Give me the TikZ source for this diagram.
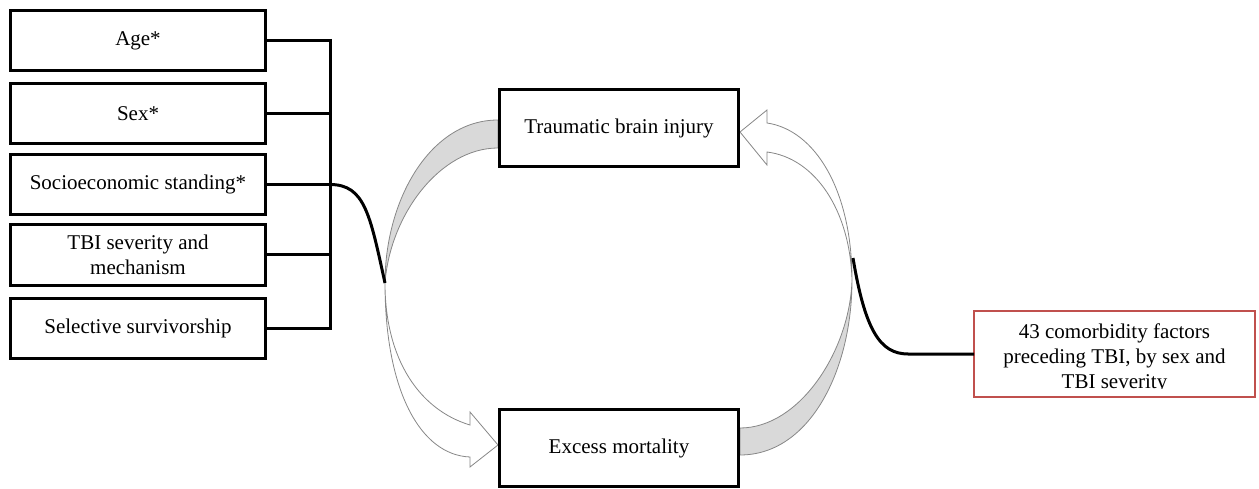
\documentclass[tikz,border=0pt]{standalone}
\usepackage{fontspec}
\setmainfont{Liberation Serif}
\definecolor{boxred}{RGB}{192,80,77}
\definecolor{bandgray}{RGB}{217,217,217}
\definecolor{thingray}{RGB}{135,135,135}
\tikzset{
  txt/.style={font=\fontsize{21}{25}\selectfont, align=center},
  factor/.style={txt, draw=black, line width=3pt, minimum width=255pt, minimum height=60.5pt, inner sep=0pt, outer sep=0pt},
  mainbox/.style={txt, draw=black, line width=3pt, fill=white, minimum width=239.5pt, minimum height=77.5pt, inner sep=0pt, outer sep=0pt},
  redbox/.style={draw=boxred, line width=2.4pt, minimum width=281pt, minimum height=85.5pt, inner sep=0pt, outer sep=0pt},
  link/.style={line width=3pt, line join=miter},
  band/.style={fill=bandgray, draw=thingray, line width=0.8pt},
  hollow/.style={fill=white, draw=thingray, line width=0.8pt, line join=miter},
}
\begin{document}
\begin{tikzpicture}[x=1pt,y=-1pt]
\useasboundingbox (0,0) rectangle (1259,489);

% left factor boxes
\node[factor] (age)   at (138,40.5)  {Age*};
\node[factor] (sex)   at (138,113.5) {Sex*};
\node[factor] (socio) at (138,184.5) {Socioeconomic standing*};
\node[factor] (sev)   at (138,255)   {TBI severity and\\mechanism};
\node[factor] (surv)  at (138,328.5) {Selective survivorship};

% key points
\coordinate (bx) at (330,0);
\coordinate (P1) at (385,283);
\coordinate (P2) at (852,280);
\coordinate (Q)  at (853,258);

% left gray band (TBI -> left point)
\path[band] (498,120) .. controls (430,120) and (385,200) .. (P1)
   .. controls (390,215) and (440,148) .. (498,148) -- cycle;
% lower hollow arrow (left point -> Excess mortality)
\path[hollow] (P1) .. controls (385,360) and (420,410) .. (470,425)
   -- (470,412) -- (498,445) -- (470,467) -- (470,457)
   .. controls (420,455) and (385,390) .. (P1) -- cycle;
% right gray band (Excess mortality -> right point)
\path[band] (740,428) .. controls (800,428) and (850,350) .. (P2)
   .. controls (852,370) and (810,455) .. (740,455) -- cycle;
% upper hollow arrow (right point -> TBI)
\path[hollow] (P2) .. controls (850,210) and (815,158) .. (767,152)
   -- (767,165) -- (740,132) -- (767,110) -- (767,123)
   .. controls (815,130) and (852,190) .. (P2) -- cycle;

% main boxes
\node[mainbox] (tbi) at (619,128) {Traumatic brain injury};
\node[mainbox] (mort) at (619,448) {Excess mortality};

% bracket
\draw[link] (age.east) -- (age.east -| bx);
\draw[link] (sex.east) -- (sex.east -| bx);
\draw[link] (socio.east) -- (socio.east -| bx);
\draw[link] (sev.east) -- (sev.east -| bx);
\draw[link] (surv.east) -- (surv.east -| bx);
\draw[link] ([yshift=1.5pt]age.east -| bx) -- ([yshift=-1.5pt]surv.east -| bx);
\draw[link] (socio.east -| bx) .. controls (365,184.5) and (370,215) .. (P1);

% comorbidity box
\node[redbox] (cf) at (1114.5,354) {};
\draw[link] (Q) .. controls (865,330) and (880,354) .. (908,354) -- (cf.west);
\begin{scope}
  \clip (975,312) rectangle (1254,388.5);
  \node[txt, inner sep=0pt] (cft) at (1114.5,358) {43 comorbidity factors\\preceding TBI, by sex and\\TBI severity};
\end{scope}
\end{tikzpicture}
\end{document}
